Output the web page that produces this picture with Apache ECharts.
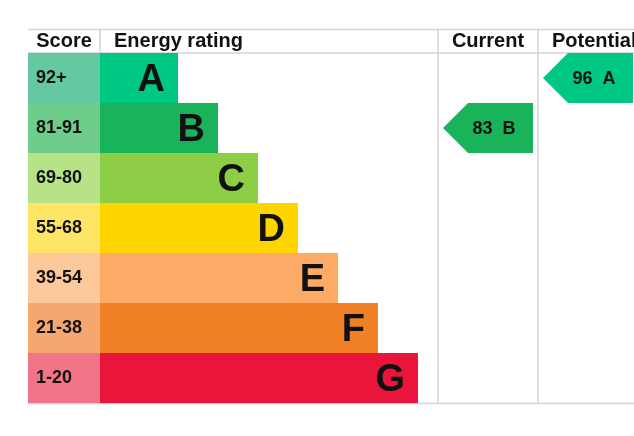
<!DOCTYPE html>
<html><head><meta charset="utf-8">
<script src="https://cdn.jsdelivr.net/npm/echarts@6/dist/echarts.min.js"></script>
<style>html,body{margin:0;padding:0;background:#fff}#c{width:634px;height:436px}</style>
</head><body><div id="c"></div>
<script>
// ---- data ----
const bands = ['A','B','C','D','E','F','G'];
const scoreRanges = ['92+','81-91','69-80','55-68','39-54','21-38','1-20'];
const bandLengths = [78,118,158,198,238,278,318];
const currentScore = 83, currentBand = 'B';
const potentialScore = 96, potentialBand = 'A';
const headers = ['Score','Energy rating','Current','Potential'];

// ---- styles ----
const bandColors = ['#00c781','#19b459','#8dce46','#ffd500','#fcaa65','#ef8023','#e9153b'];
const cellColors = ['#64c8a0','#6fcd8b','#b8e288','#ffe566','#fdc99b','#f4a870','#f27489'];
const lineColor = '#d4d4d4';
const fam = '"Liberation Sans", Arial, sans-serif';
const scoreColWidth = 72;
const currentColStart = 410, potentialColStart = 510, arrowPad = 5, arrowW = 90, arrowTip = 25;

const chart = echarts.init(document.getElementById('c'));
const arrows = [
  {value:[currentColStart, bands.indexOf(currentBand), currentScore, currentBand]},
  {value:[potentialColStart, bands.indexOf(potentialBand), potentialScore, potentialBand]}
];

function hline(y){return {type:'line',shape:{x1:28,y1:y,x2:634,y2:y},style:{stroke:lineColor,lineWidth:1.5}};}
function vline(x,y1,y2){return {type:'line',shape:{x1:x,y1:y1,x2:x,y2:y2},style:{stroke:lineColor,lineWidth:1.5}};}
function htext(t,x,align){return {type:'text',x:x,y:41,style:{text:t,fontSize:20,fontWeight:'bold',fontFamily:fam,fill:'#111',textAlign:align,textVerticalAlign:'middle'}};}

chart.setOption({
  animation:false,
  grid:{left:28,top:53,width:606,height:350,containLabel:false},
  xAxis:{type:'value',min:0,max:606,show:false},
  yAxis:{type:'category',data:bands,inverse:true,show:false},
  graphic:[
    hline(29.5),hline(53),hline(403.5),
    vline(100,29,53),vline(438,29,403),vline(538,29,403),
    htext(headers[0],64,'center'),htext(headers[1],114,'left'),
    htext(headers[2],488,'center'),htext(headers[3],552,'left')
  ],
  series:[
    {type:'bar',stack:'s',barWidth:'100%',barCategoryGap:0,
     data:scoreRanges.map((r,i)=>({value:scoreColWidth,name:r,itemStyle:{color:cellColors[i]}})),
     label:{show:true,position:'insideLeft',distance:8,formatter:p=>scoreRanges[p.dataIndex],
       fontSize:18,fontWeight:'bold',fontFamily:fam,color:'#111'}},
    {type:'bar',stack:'s',barWidth:'100%',barCategoryGap:0,
     data:bandLengths.map((v,i)=>({value:v,itemStyle:{color:bandColors[i]}})),
     label:{show:true,position:'insideRight',distance:13,offset:[0,3],formatter:p=>bands[p.dataIndex],
       fontSize:38,fontWeight:'bold',fontFamily:fam,color:'#111'}},
    {type:'custom',
     data:arrows,
     renderItem:function(params,api){
       const x0 = api.coord([api.value(0)+arrowPad, api.value(1)]);
       const x1 = api.coord([api.value(0)+arrowPad+arrowW, api.value(1)]);
       const h = api.size([0,1])[1];
       const yc = x0[1], top = yc-h/2, bot = yc+h/2;
       const color = bandColors[bands.indexOf(api.value(3))];
       return {type:'group',children:[
         {type:'polygon',shape:{points:[[x0[0],yc],[x0[0]+arrowTip,top],[x1[0],top],[x1[0],bot],[x0[0]+arrowTip,bot]]},
          style:{fill:color}},
         {type:'text',x:(x0[0]+x1[0])/2+6,y:yc+1,style:{text:api.value(2)+'  '+api.value(3),
          fontSize:18,fontWeight:'bold',fontFamily:fam,fill:'#111',textAlign:'center',textVerticalAlign:'middle'}}
       ]};
     }}
  ]
});
</script></body></html>
